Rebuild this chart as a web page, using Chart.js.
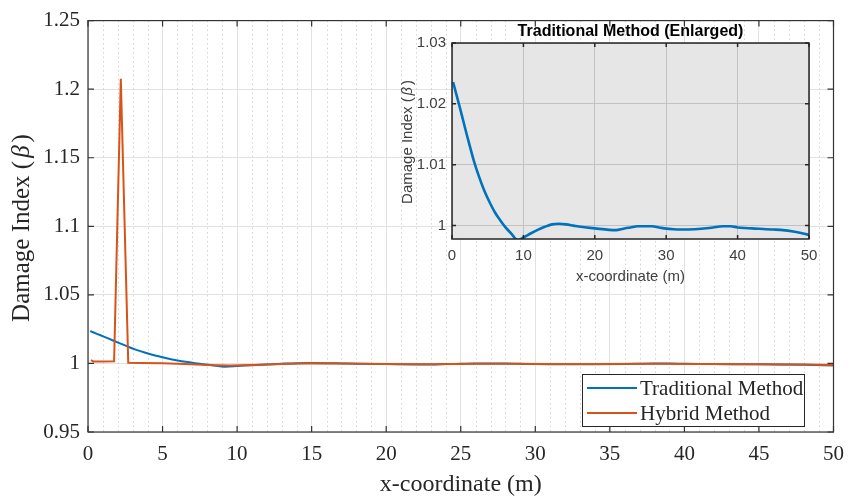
<!DOCTYPE html>
<html>
<head>
<meta charset="utf-8">
<script src="https://cdn.jsdelivr.net/npm/chart.js@4.4.1/dist/chart.umd.min.js"></script>
<style>
  html, body { margin: 0; padding: 0; background: #fff; }
  #wrap { position: relative; width: 854px; height: 503px; }
  #mainChart { position: absolute; left: 0; top: 0; }
  #insetChart { position: absolute; left: 400px; top: 0; }
</style>
</head>
<body>
<div id="wrap">
  <canvas id="mainChart" width="854" height="503"></canvas>
  <canvas id="insetChart" width="440" height="300"></canvas>
</div>
<script>
// ---- data ----
const seriesNames = ['Traditional Method', 'Hybrid Method'];
const seriesColors = ['#0072BD', '#D95319'];

const xTicksMain = [0, 5, 10, 15, 20, 25, 30, 35, 40, 45, 50];
const yTicksMain = [0.95, 1, 1.05, 1.1, 1.15, 1.2, 1.25];
const xTicksInset = [0, 10, 20, 30, 40, 50];
const yTicksInset = [1, 1.01, 1.02, 1.03];

const tradX = [0.15, 0.6, 1.1, 1.6, 2.1, 2.6, 3.2, 3.8, 4.5, 5.2, 6, 6.8, 7.5, 8.3, 9.2,
               10, 11, 12, 13, 14, 15, 16, 17, 18, 20, 22, 23, 24, 25, 26, 27, 28, 29, 30,
               31, 32, 34, 36, 38, 39, 40, 41, 42, 44, 45, 46, 48, 50];
const tradY = [1.0236, 1.0216, 1.0194, 1.0171, 1.0148, 1.0126, 1.0101, 1.0080, 1.0058, 1.0040,
               1.0022, 1.0008, 0.9997, 0.9987, 0.9976,
               0.99805, 0.9987, 0.9993, 0.9998, 1.0002, 1.0003, 1.0002, 1.0000, 0.9998, 0.99955,
               0.9993, 0.99925, 0.9995, 0.9997, 0.9999, 0.9999, 0.9999, 0.9997, 0.9995,
               0.9994, 0.99935, 0.9994, 0.9996, 0.9999, 0.9999, 0.9997, 0.9996, 0.99955,
               0.9994, 0.99935, 0.9993, 0.9990, 0.99848];

const hybX = [0.2, 0.35, 1, 1.75, 2.2, 2.7, 3.5, 5, 6.5, 8, 9.5, 11, 13, 15, 17, 20, 23, 26, 28, 31, 34, 38, 41, 45, 48, 50];
const hybY = [1.0025, 1.0015, 1.0015, 1.0016, 1.2075, 1.0004, 1.0003, 1.0001, 0.9995, 0.9988, 0.9985, 0.9988,
              0.9996, 1.0001, 1.0000, 0.9996, 0.9994, 0.9997, 0.9998, 0.9996, 0.9995, 0.9998, 0.9996, 0.9994,
              0.9992, 0.9989];

const minorStep = 1;

// ---- styling ----
const serif = "'Liberation Serif', 'Times New Roman', serif";
const sans = "'Liberation Sans', Arial, sans-serif";
const axisCol = '#262626';

const toPoints = (xs, ys) => xs.map((x, i) => ({ x: x, y: ys[i] }));
const fmt = v => String(parseFloat(Number(v).toFixed(3)));

function drawBetaLabel(ctx, x, y, fontSize, family, color) {
    // "Damage Index (β)" with italic beta, rotated
    const a = 'Damage Index (', b = '\u03B2', c = ')';
    ctx.save();
    ctx.translate(x, y);
    ctx.rotate(-Math.PI / 2);
    ctx.fillStyle = color;
    ctx.textBaseline = 'middle';
    ctx.textAlign = 'left';
    ctx.font = `${fontSize}px ${family}`;
    const wa = ctx.measureText(a).width, wc = ctx.measureText(c).width;
    ctx.font = `italic ${fontSize}px ${family}`;
    const wb = ctx.measureText(b).width;
    const gap = fontSize * 0.12;
    const total = wa + wb + wc + gap * 2;
    let cx = -total / 2;
    ctx.font = `${fontSize}px ${family}`;
    ctx.fillText(a, cx, 0);
    cx += wa + gap;
    ctx.font = `italic ${fontSize}px ${family}`;
    ctx.fillText(b, cx, 0);
    cx += wb + gap;
    ctx.font = `${fontSize}px ${family}`;
    ctx.fillText(c, cx, 0);
    ctx.restore();
}

function boxAndTicks(chart, xVals, yVals, len, color, width) {
    const { ctx, chartArea: a, scales: { x, y } } = chart;
    ctx.save();
    ctx.strokeStyle = color;
    ctx.lineWidth = width;
    ctx.strokeRect(a.left, a.top, a.right - a.left, a.bottom - a.top);
    ctx.beginPath();
    xVals.forEach(v => {
        const px = x.getPixelForValue(v);
        ctx.moveTo(px, a.bottom); ctx.lineTo(px, a.bottom - len);
        ctx.moveTo(px, a.top); ctx.lineTo(px, a.top + len);
    });
    yVals.forEach(v => {
        const py = y.getPixelForValue(v);
        ctx.moveTo(a.left, py); ctx.lineTo(a.left + len, py);
        ctx.moveTo(a.right, py); ctx.lineTo(a.right - len, py);
    });
    ctx.stroke();
    ctx.restore();
}

// ---- main chart plugin ----
const mainDecor = {
    id: 'mainDecor',
    beforeDatasetsDraw(chart) {
        // dotted minor vertical grid
        const { ctx, chartArea: a, scales: { x } } = chart;
        ctx.save();
        ctx.strokeStyle = '#d2d2d2';
        ctx.lineWidth = 1;
        ctx.setLineDash([1.5, 3]);
        for (let v = x.min + minorStep; v < x.max; v += minorStep) {
            if (xTicksMain.includes(v)) continue;
            const px = Math.round(x.getPixelForValue(v)) + 0.5;
            ctx.beginPath();
            ctx.moveTo(px, a.top);
            ctx.lineTo(px, a.bottom);
            ctx.stroke();
        }
        ctx.restore();
    },
    afterDraw(chart) {
        const { ctx, chartArea: a } = chart;
        boxAndTicks(chart, xTicksMain, yTicksMain, 6, '#333', 1.2);

        // axis titles
        ctx.save();
        ctx.fillStyle = axisCol;
        ctx.font = `24px ${serif}`;
        ctx.textAlign = 'center';
        ctx.textBaseline = 'middle';
        ctx.fillText('x-coordinate (m)', (a.left + a.right) / 2, 485);
        ctx.restore();
        drawBetaLabel(ctx, 22, 228, 25, serif, axisCol);

        // legend
        const lx = 582, ly = 374, lw = 222, lh = 52;
        ctx.save();
        ctx.fillStyle = '#fff';
        ctx.fillRect(lx, ly, lw, lh);
        ctx.strokeStyle = '#262626';
        ctx.lineWidth = 1;
        ctx.strokeRect(lx + 0.5, ly + 0.5, lw, lh);
        chart.data.datasets.forEach((ds, i) => {
            const yy = ly + 14 + i * 25;
            ctx.strokeStyle = ds.borderColor;
            ctx.lineWidth = 2.2;
            ctx.beginPath();
            ctx.moveTo(lx + 5, yy);
            ctx.lineTo(lx + 55, yy);
            ctx.stroke();
            ctx.fillStyle = axisCol;
            ctx.font = `21px ${serif}`;
            ctx.textAlign = 'left';
            ctx.textBaseline = 'middle';
            ctx.fillText(ds.label, lx + 58, yy + 1);
        });
        ctx.restore();
    }
};

new Chart(document.getElementById('mainChart'), {
    type: 'line',
    data: {
        datasets: [
            {
                label: seriesNames[0],
                data: toPoints(tradX, tradY),
                borderColor: seriesColors[0],
                borderWidth: 2,
                pointRadius: 0,
                cubicInterpolationMode: 'monotone',
                order: 1
            },
            {
                label: seriesNames[1],
                data: toPoints(hybX, hybY),
                borderColor: seriesColors[1],
                borderWidth: 2,
                pointRadius: 0,
                tension: 0,
                order: 0
            }
        ]
    },
    options: {
        responsive: false,
        devicePixelRatio: 1,
        animation: false,
        layout: { padding: { top: 20, right: 14, left: 0, bottom: 0 } },
        plugins: { legend: { display: false }, tooltip: { enabled: false } },
        scales: {
            x: {
                type: 'linear',
                min: 0,
                max: 50,
                afterBuildTicks: s => { s.ticks = xTicksMain.map(v => ({ value: v })); },
                afterFit: s => { s.height = 71; },
                grid: { color: '#e2e2e2', drawTicks: false },
                border: { display: false },
                ticks: {
                    font: { family: serif, size: 21 },
                    color: axisCol,
                    padding: 10,
                    maxRotation: 0,
                    autoSkip: false,
                    callback: v => fmt(v)
                }
            },
            y: {
                type: 'linear',
                min: 0.95,
                max: 1.25,
                afterBuildTicks: s => { s.ticks = yTicksMain.map(v => ({ value: v })); },
                afterFit: s => { s.width = 88; },
                grid: { color: '#e2e2e2', drawTicks: false },
                border: { display: false },
                ticks: {
                    font: { family: serif, size: 21 },
                    color: axisCol,
                    padding: 8,
                    autoSkip: false,
                    callback: v => fmt(v)
                }
            }
        }
    },
    plugins: [mainDecor]
});

// ---- inset chart ----
const insetDecor = {
    id: 'insetDecor',
    beforeDraw(chart) {
        const { ctx, chartArea: a } = chart;
        ctx.save();
        ctx.fillStyle = '#e6e6e6';
        ctx.fillRect(a.left, a.top, a.right - a.left, a.bottom - a.top);
        ctx.restore();
    },
    afterDraw(chart) {
        const { ctx, chartArea: a } = chart;
        boxAndTicks(chart, xTicksInset, yTicksInset, 4, '#262626', 1.5);
        ctx.save();
        ctx.textAlign = 'center';
        ctx.textBaseline = 'middle';
        ctx.fillStyle = '#000';
        ctx.font = `bold 16px ${sans}`;
        ctx.fillText('Traditional Method (Enlarged)', (a.left + a.right) / 2, 32);
        ctx.fillStyle = '#404040';
        ctx.font = `15px ${sans}`;
        ctx.fillText('x-coordinate (m)', (a.left + a.right) / 2, 277);
        ctx.restore();
        drawBetaLabel(ctx, 8, 142, 15, sans, '#404040');
    }
};

new Chart(document.getElementById('insetChart'), {
    type: 'line',
    data: {
        datasets: [{
            label: seriesNames[0],
            data: toPoints(tradX, tradY),
            borderColor: seriesColors[0],
            borderWidth: 2.6,
            pointRadius: 0,
            cubicInterpolationMode: 'monotone'
        }]
    },
    options: {
        responsive: false,
        devicePixelRatio: 1,
        animation: false,
        layout: { padding: { top: 43, right: 31, left: 0, bottom: 0 } },
        plugins: { legend: { display: false }, tooltip: { enabled: false } },
        scales: {
            x: {
                type: 'linear',
                min: 0,
                max: 50,
                afterBuildTicks: s => { s.ticks = xTicksInset.map(v => ({ value: v })); },
                afterFit: s => { s.height = 61; },
                grid: { color: '#c2c2c2', drawTicks: false },
                border: { display: false },
                ticks: {
                    font: { family: sans, size: 15 },
                    color: '#404040',
                    padding: 8,
                    maxRotation: 0,
                    autoSkip: false,
                    callback: v => fmt(v)
                }
            },
            y: {
                type: 'linear',
                min: 0.9978,
                max: 1.03,
                afterBuildTicks: s => { s.ticks = yTicksInset.map(v => ({ value: v })); },
                afterFit: s => { s.width = 52; },
                grid: { color: '#c2c2c2', drawTicks: false },
                border: { display: false },
                ticks: {
                    font: { family: sans, size: 15 },
                    color: '#404040',
                    padding: 6,
                    autoSkip: false,
                    callback: v => fmt(v)
                }
            }
        }
    },
    plugins: [insetDecor]
});
</script>
</body>
</html>
